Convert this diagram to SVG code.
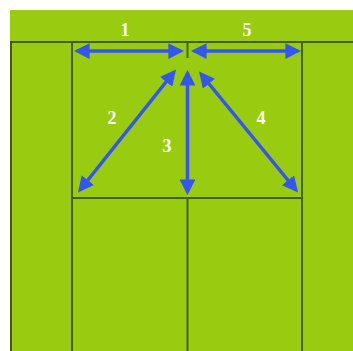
<svg xmlns="http://www.w3.org/2000/svg" width="353" height="351" viewBox="0 0 353 351">
<defs>
<style>
.court{stroke:#3f5f00;stroke-width:2;fill:none}
.arr{stroke:#3355f0;stroke-width:3.5;fill:none;marker-start:url(#ah);marker-end:url(#ah)}
.lbl{font-family:"Liberation Serif",serif;font-weight:bold;font-size:18px;fill:#ffffff;text-anchor:middle}
</style>
<marker id="ah" viewBox="0 0 10 10" refX="8" refY="5" markerWidth="4.5" markerHeight="4.5" orient="auto-start-reverse" markerUnits="strokeWidth">
<path d="M0,0 L10,5 L0,10 z" fill="#3355f0"/>
</marker>
</defs>
<rect width="353" height="351" fill="#ffffff"/>
<g id="court">
<rect x="10" y="10" width="343" height="341" fill="#99cc11"/>
<line class="court" x1="10" y1="42" x2="353" y2="42"/>
<line class="court" x1="11" y1="42" x2="11" y2="351"/>
<line class="court" x1="72" y1="42" x2="72" y2="351"/>
<line class="court" x1="302" y1="42" x2="302" y2="351"/>
<line class="court" x1="187.5" y1="42" x2="187.5" y2="58"/>
<line class="court" x1="187.5" y1="198" x2="187.5" y2="351"/>
<line class="court" x1="72" y1="198" x2="302" y2="198"/>
</g>
<g id="connectors">
<line class="arr" x1="77" y1="51" x2="181" y2="51"/>
<line class="arr" x1="194" y1="51" x2="298" y2="51"/>
<line class="arr" x1="174" y1="72" x2="80" y2="190"/>
<line class="arr" x1="187.5" y1="73" x2="187.5" y2="192"/>
<line class="arr" x1="201" y1="74" x2="296" y2="190"/>
</g>
<g id="labels">
<text class="lbl" x="125" y="36">1</text>
<text class="lbl" x="247" y="36">5</text>
<text class="lbl" x="112" y="124">2</text>
<text class="lbl" x="167" y="152">3</text>
<text class="lbl" x="261" y="124">4</text>
</g>
</svg>
